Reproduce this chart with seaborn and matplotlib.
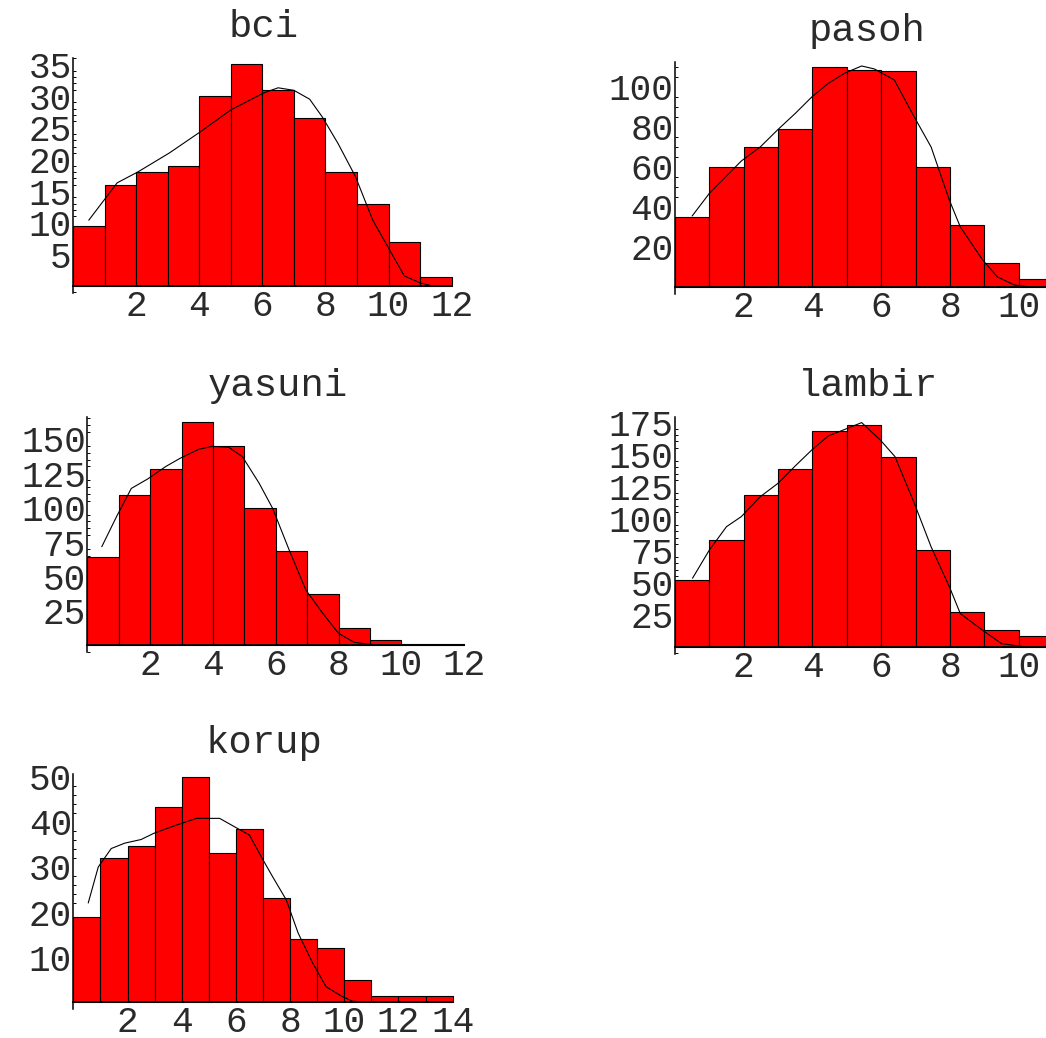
import numpy as np
import pandas as pd
import matplotlib
matplotlib.use("Agg")
import matplotlib.pyplot as plt
from matplotlib.ticker import MultipleLocator
import seaborn as sns

# bar heights per unit bin, starting at 0
bci_counts = [9.5, 16, 18, 19, 30, 35, 31, 26.5, 18, 13, 7, 1.5]
pasoh_counts = [35, 60, 70, 79, 110, 108.5, 108, 60, 31, 12, 4]
yasuni_counts = [64, 109, 128, 162, 145, 100, 68.5, 37.5, 12.5, 4, 0.7, 0.7]
lambir_counts = [52.5, 83, 118.5, 138.5, 168.5, 172.5, 148, 75.5, 27, 13, 8.5]
korup_counts = [19, 32, 34.7, 43.3, 50, 33, 38.4, 23, 14, 12, 5, 1.4, 1.4, 1.4]

# smoothed curves drawn over the bars
bci_cx = [0.5, 1.4, 2.05, 3.05, 4.05, 5.0, 6.05, 6.5, 7.0, 7.5, 7.9, 8.4, 8.95, 9.5, 10.0, 10.5, 11.0, 11.4]
bci_cy = [10.4, 16.3, 18, 21, 24.4, 27.8, 30.5, 31.3, 30.9, 29.5, 26.7, 22.5, 17.3, 10.4, 6, 1.6, 0.5, 0]
pasoh_cx = [0.5, 1.0, 1.93, 2.48, 3.0, 3.5, 3.98, 4.46, 4.95, 5.43, 5.8, 6.38, 6.96, 7.45, 7.98, 8.3, 8.95, 9.38, 9.87, 10.3]
pasoh_cy = [35.5, 46.8, 63, 70, 78.8, 86.8, 95, 101.8, 107, 110.5, 109, 103.5, 85, 70, 43.5, 30, 13.5, 5, 1, 0]
yasuni_cx = [0.46, 0.93, 1.4, 1.93, 2.5, 2.96, 3.55, 3.98, 4.5, 4.94, 5.47, 5.9, 6.43, 6.96, 7.5, 8.0, 8.5, 9.0, 10.0]
yasuni_cy = [71.6, 93.5, 114, 121, 130, 136, 142.5, 144.6, 144, 137, 117.8, 99.5, 69, 40, 23, 8.5, 2, 0.5, 0]
lambir_cx = [0.51, 1.0, 1.5, 1.93, 2.48, 3.0, 3.5, 3.98, 4.46, 4.95, 5.43, 5.97, 6.4, 6.96, 7.45, 7.98, 8.3, 8.95, 9.5, 10.2]
lambir_cy = [53.5, 75.5, 93.7, 101.5, 117, 127.5, 141, 153.4, 164.3, 169.5, 174.7, 161.2, 148.2, 112, 78, 47, 26, 13, 2.6, 0]
korup_cx = [0.55, 0.92, 1.4, 1.9, 2.5, 2.98, 3.8, 4.55, 5.4, 5.9, 6.5, 7.0, 7.36, 7.86, 8.3, 8.84, 9.33, 9.9, 10.3, 10.7]
korup_cy = [22, 30, 34.1, 35.3, 36.1, 37.5, 39.3, 40.8, 40.8, 39.1, 37.1, 31.6, 27.8, 22.7, 15.3, 8.6, 3.4, 1.3, 0.2, 0]

# tick labels
bci_yticks = [5, 10, 15, 20, 25, 30, 35]
pasoh_yticks = [20, 40, 60, 80, 100]
yasuni_yticks = [25, 50, 75, 100, 125, 150]
lambir_yticks = [25, 50, 75, 100, 125, 150, 175]
korup_yticks = [10, 20, 30, 40, 50]
bci_xticks = [2, 4, 6, 8, 10, 12]
pasoh_xticks = [2, 4, 6, 8, 10]
yasuni_xticks = [2, 4, 6, 8, 10, 12]
lambir_xticks = [2, 4, 6, 8, 10]
korup_xticks = [2, 4, 6, 8, 10, 12, 14]

sns.set_theme(style="white")
plt.rcParams['font.family'] = ['Liberation Mono', 'DejaVu Sans Mono']

TEXT = '#2a2a2a'

panels = [
    # name, counts, curve x, curve y, xticks, yticks, minor step, rect, xlim, ylim
    ("bci", bci_counts, bci_cx, bci_cy, bci_xticks, bci_yticks, 1,
     [0.0698, 0.7177, 0.365, 0.2264], (0, 12.1), (-1.1, 36)),
    ("pasoh", pasoh_counts, pasoh_cx, pasoh_cy, pasoh_xticks, pasoh_yticks, 5,
     [0.6453, 0.7168, 0.3681, 0.2235], (0, 11.2), (-3.5, 112.5)),
    ("yasuni", yasuni_counts, yasuni_cx, yasuni_cy, yasuni_xticks, yasuni_yticks, 5,
     [0.0835, 0.3719, 0.3633, 0.2264], (0, 12.1), (-5, 166)),
    ("lambir", lambir_counts, lambir_cx, lambir_cy, lambir_xticks, lambir_yticks, 5,
     [0.6453, 0.3699, 0.3681, 0.2283], (0, 11.2), (-5.5, 179)),
    ("korup", korup_counts, korup_cx, korup_cy, korup_xticks, korup_yticks, 2,
     [0.0701, 0.0277, 0.3652, 0.2264], (0, 14.1), (-1.6, 50.6)),
]

fig = plt.figure(figsize=(10.46, 10.38), dpi=100)

for name, counts, cx, cy, xt, yt, minor, rect, xlim, ylim in panels:
    ax = fig.add_axes(rect)
    nbins = len(counts)
    df = pd.DataFrame({'bin': np.arange(nbins) + 0.5, 'n': counts})
    sns.histplot(data=df, x='bin', weights='n', binwidth=1, binrange=(0, nbins),
                 ax=ax, color='#ff0000', edgecolor='black', linewidth=0.8, alpha=1)
    sns.lineplot(x=cx, y=cy, ax=ax, color='black', linewidth=0.8, sort=False)

    ax.set_xlim(*xlim)
    ax.set_ylim(*ylim)
    ax.set_xlabel('')
    ax.set_ylabel('')
    ax.set_xticks(xt)
    ax.set_yticks(yt)
    ax.yaxis.set_minor_locator(MultipleLocator(minor))

    for side in ['top', 'right']:
        ax.spines[side].set_visible(False)
    ax.spines['bottom'].set_position(('data', 0))
    ax.spines['bottom'].set_bounds(0, nbins)
    ax.spines['bottom'].set_linewidth(1.3)
    ax.spines['left'].set_linewidth(1.1)
    for side in ['bottom', 'left']:
        ax.spines[side].set_color('black')

    ax.tick_params(axis='x', length=0, pad=2, labelsize=26, labelcolor=TEXT)
    ax.tick_params(axis='y', which='major', direction='in', length=4, width=0.8,
                   color='black', pad=1, labelsize=26, labelcolor=TEXT)
    ax.tick_params(axis='y', which='minor', direction='in', length=2.2, width=0.7,
                   color='black', left=True)
    ax.set_title(name, fontsize=28, color=TEXT, pad=15)

fig.savefig('out.png', dpi=100)
